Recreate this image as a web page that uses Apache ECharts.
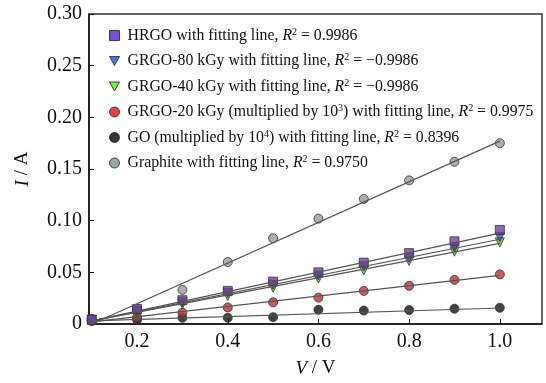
<!DOCTYPE html>
<html>
<head>
<meta charset="utf-8">
<script src="https://cdn.jsdelivr.net/npm/echarts@6/dist/echarts.min.js"></script>
<style>
  html, body { margin: 0; padding: 0; background: #fff; }
  #chart { width: 546px; height: 383px; }
</style>
</head>
<body>
<div id="chart"></div>
<script>
// voltage points (V)
const voltage = [0.1, 0.2, 0.3, 0.4, 0.5, 0.6, 0.7, 0.8, 0.9, 1.0]
const xTicks = [0.2, 0.4, 0.6, 0.8, 1.0]

// current (A)
const hrgo     = [0.004, 0.0145, 0.023, 0.032, 0.041, 0.050, 0.0594, 0.0686, 0.080, 0.091]
const grgo80   = [0.004, 0.013, 0.021, 0.030, 0.038, 0.047, 0.056, 0.064, 0.074, 0.084]
const grgo40   = [0.004, 0.011, 0.019, 0.027, 0.035, 0.044, 0.052, 0.061, 0.070, 0.079]
const grgo20   = [0.003, 0.0066, 0.011, 0.016, 0.021, 0.0255, 0.032, 0.037, 0.0427, 0.048]
const go       = [0.003, 0.004, 0.006, 0.006, 0.0066, 0.0138, 0.013, 0.0135, 0.0148, 0.0157]
const graphite = [0.005, 0.013, 0.033, 0.060, 0.083, 0.102, 0.121, 0.139, 0.157, 0.175]

// fitting lines: [start, end] values at V = 0.1 and V = 1.0
const fitX        = [0.1, 1.0]
const fitHrgo     = [0.003, 0.088]
const fitGrgo80   = [0.003, 0.082]
const fitGrgo40   = [0.003, 0.078]
const fitGrgo20   = [0.002, 0.047]
const fitGo       = [0.003, 0.0155]
const fitGraphite = [0.0, 0.177]

// legend texts
const names = ['HRGO', 'GRGO-80', 'GRGO-40', 'GRGO-20', 'GO', 'Graphite']
const labelHead = {
  'HRGO': 'HRGO with fitting line, ',
  'GRGO-80': 'GRGO-80 kGy with fitting line, ',
  'GRGO-40': 'GRGO-40 kGy with fitting line, ',
  'GRGO-20': 'GRGO-20 kGy (multiplied by 10{sup|3}) with fitting line, ',
  'GO': 'GO (multiplied by 10{sup|4}) with fitting line, ',
  'Graphite': 'Graphite with fitting line, '
}
const r2 = {
  'HRGO': '0.9986',
  'GRGO-80': '\u22120.9986',
  'GRGO-40': '\u22120.9986',
  'GRGO-20': '0.9975',
  'GO': '0.8396',
  'Graphite': '0.9750'
}

const triDown = 'path://M0,0 L10,0 L5,9 Z'

// marker colours in the plot, and the brighter ones of the legend keys
const plotColor = {
  'HRGO': '#74409e', 'GRGO-80': '#2a4fd0', 'GRGO-40': '#5fd020',
  'GRGO-20': '#bb3434', 'GO': '#111111', 'Graphite': '#9a9a9a'
}
const keyColor = {
  'HRGO': '#5a1fd6', 'GRGO-80': '#1f4de0', 'GRGO-40': '#5ee81a',
  'GRGO-20': '#e01010', 'GO': '#000000', 'Graphite': '#7e8e90'
}
const keyIcon = {
  'HRGO': 'rect', 'GRGO-80': triDown, 'GRGO-40': triDown,
  'GRGO-20': 'circle', 'GO': 'circle', 'Graphite': 'circle'
}

function pairs(ys, xs) {
  return ys.map((y, i) => [xs[i], y])
}

function pointSeries(name, ys) {
  return {
    name: name,
    type: 'scatter',
    symbol: keyIcon[name],
    symbolSize: 9,
    z: 2,
    data: pairs(ys, voltage),
    itemStyle: { color: plotColor[name], borderColor: '#333', borderWidth: 1 }
  }
}

function fitSeries(ys) {
  return {
    type: 'line',
    symbol: 'none',
    z: 3,
    silent: true,
    data: pairs(ys, fitX),
    lineStyle: { color: '#555', width: 1.2 }
  }
}

const chart = echarts.init(document.getElementById('chart'))

const serif = 'Liberation Serif'

var option = {
  animation: false,
  textStyle: { fontFamily: serif },
  grid: {
    left: 89,
    right: 4,
    top: 14,
    bottom: 51,
    show: true,
    borderColor: '#333',
    borderWidth: 1.5
  },
  legend: {
    data: names.map(n => ({
      name: n,
      icon: keyIcon[n],
      itemStyle: { color: keyColor[n], borderColor: '#222', borderWidth: 1 }
    })),
    orient: 'vertical',
    left: 109,
    top: 27,
    padding: 0,
    itemWidth: 10,
    itemHeight: 10,
    itemGap: 9,
    formatter: function (name) {
      return labelHead[name] + '{i|R}{sup|2} = ' + r2[name]
    },
    textStyle: {
      fontFamily: serif,
      fontSize: 15.8,
      color: '#111',
      padding: [0, 0, 0, 3],
      rich: {
        i: { fontFamily: serif, fontSize: 15.8, fontStyle: 'italic', color: '#111' },
        sup: { fontFamily: serif, fontSize: 10, color: '#111', verticalAlign: 'top', padding: [0, 0, 7, 0] }
      }
    }
  },
  xAxis: {
    type: 'value',
    min: 0.094,
    max: 1.093,
    name: '{i|V} / V',
    nameLocation: 'middle',
    nameGap: 35,
    nameTextStyle: {
      fontFamily: serif,
      fontSize: 19,
      color: '#111',
      rich: { i: { fontFamily: serif, fontSize: 19, fontStyle: 'italic', color: '#111' } }
    },
    axisLine: { lineStyle: { color: '#111', width: 1.5 } },
    axisTick: { inside: true, length: 5, customValues: xTicks, lineStyle: { color: '#111' } },
    axisLabel: {
      customValues: xTicks,
      margin: 8,
      fontFamily: serif,
      fontSize: 20,
      color: '#111',
      formatter: v => v.toFixed(1)
    },
    splitLine: { show: false }
  },
  yAxis: {
    type: 'value',
    min: 0,
    max: 0.3,
    interval: 0.05,
    name: '{i|I} / A',
    nameLocation: 'middle',
    nameRotate: 90,
    nameGap: 57,
    nameTextStyle: {
      fontFamily: serif,
      fontSize: 19,
      color: '#111',
      rich: { i: { fontFamily: serif, fontSize: 19, fontStyle: 'italic', color: '#111' } }
    },
    axisLine: { show: true, lineStyle: { color: '#111', width: 1.5 } },
    axisTick: { show: true, inside: true, length: 5, lineStyle: { color: '#111' } },
    axisLabel: {
      margin: 7,
      fontFamily: serif,
      fontSize: 20,
      color: '#111',
      formatter: v => (v === 0 ? '0' : v.toFixed(2))
    },
    splitLine: { show: false }
  },
  series: [
    pointSeries('Graphite', graphite),
    pointSeries('GO', go),
    pointSeries('GRGO-20', grgo20),
    pointSeries('GRGO-40', grgo40),
    pointSeries('GRGO-80', grgo80),
    pointSeries('HRGO', hrgo),
    fitSeries(fitGraphite),
    fitSeries(fitGo),
    fitSeries(fitGrgo20),
    fitSeries(fitGrgo40),
    fitSeries(fitGrgo80),
    fitSeries(fitHrgo)
  ]
}

chart.setOption(option)
</script>
</body>
</html>
